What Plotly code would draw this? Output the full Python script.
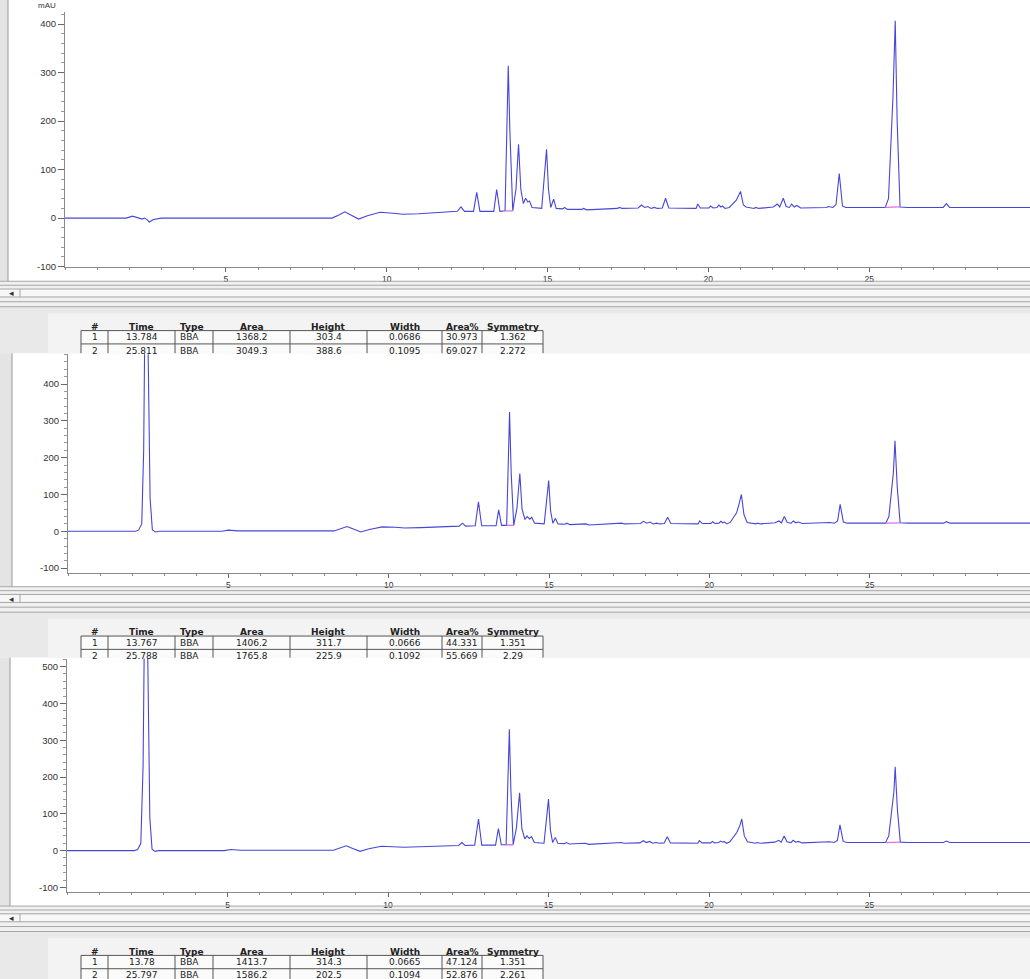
import plotly.graph_objects as go

W, H = 1030, 979

# ---------------- data ----------------
run1 = [(0, 0), (1.9, 0), (2.1, 4), (2.3, 0), (2.4, -2), (2.47, 0), (2.55, -3), (2.62, -8), (2.75, -3), (3.0, 0),
        (8.3, 0), (8.5, 6), (8.7, 13), (8.9, 6), (9.13, -2), (9.4, 5), (9.8, 12), (10.2, 10), (10.5, 8), (11.0, 9),
        (11.7, 12), (12.2, 14), (12.31, 23), (12.42, 14), (12.7, 14), (12.8, 53), (12.9, 14), (13.33, 14), (13.42, 59),
        (13.52, 14), (13.68, 15), (13.74, 180), (13.78, 314), (13.83, 180), (13.92, 15), (14.02, 60), (14.1, 152),
        (14.17, 60), (14.25, 30), (14.32, 41), (14.39, 33), (14.44, 35), (14.52, 22), (14.82, 20), (14.92, 100),
        (14.97, 142), (15.03, 60), (15.1, 22), (15.19, 39), (15.27, 20), (15.47, 19), (15.53, 22), (15.62, 18),
        (16.07, 18), (16.12, 20), (16.22, 17), (17.17, 20), (17.24, 22), (17.32, 20), (17.82, 21), (17.92, 27),
        (18.02, 22), (18.12, 24), (18.22, 20), (18.32, 22), (18.42, 20), (18.57, 21), (18.67, 41), (18.77, 21),
        (19.17, 20), (19.62, 20), (19.67, 29), (19.75, 21), (20.02, 21), (20.07, 25), (20.15, 21), (20.27, 22),
        (20.33, 27), (20.39, 23), (20.44, 25), (20.52, 20), (20.65, 22), (20.87, 37), (21.0, 55), (21.09, 27),
        (21.17, 23), (21.42, 20), (21.47, 22), (21.57, 20), (22.02, 23), (22.14, 29), (22.22, 23), (22.33, 41),
        (22.42, 24), (22.52, 22), (22.59, 29), (22.67, 23), (22.75, 26), (22.87, 21), (23.67, 22), (23.73, 24),
        (23.87, 22), (23.97, 28), (24.07, 92), (24.17, 25), (24.27, 22), (25.5, 22), (25.6, 40), (25.68, 160),
        (25.74, 250), (25.81, 407), (25.87, 200), (25.96, 23), (26.2, 22), (27.3, 22), (27.4, 30), (27.5, 22), (30, 22)]

run2 = [(0, 0), (2.1, 0), (2.2, 3), (2.3, 20), (2.36, 220), (2.43, 900), (2.5, 480), (2.56, 90), (2.63, 4),
        (2.72, -2), (2.85, 0), (4.8, 0), (5.0, 3), (5.3, 1), (8.3, 1), (8.5, 6), (8.7, 13), (8.9, 6), (9.13, -2),
        (9.4, 5), (9.8, 12), (10.2, 11), (10.5, 9), (11.0, 10), (11.7, 12), (12.2, 14), (12.3, 22), (12.4, 14),
        (12.7, 15), (12.8, 80), (12.9, 15), (13.35, 15), (13.43, 58), (13.52, 16), (13.68, 16), (13.72, 160),
        (13.77, 324), (13.82, 160), (13.9, 16), (14.0, 62), (14.09, 157), (14.16, 60), (14.25, 32), (14.32, 40),
        (14.4, 33), (14.46, 38), (14.55, 22), (14.85, 20), (14.94, 95), (14.99, 138), (15.05, 55), (15.12, 22),
        (15.2, 35), (15.28, 20), (15.5, 19), (15.56, 22), (15.65, 18), (16.1, 18), (16.15, 20), (16.25, 17),
        (17.2, 20), (17.27, 22), (17.35, 20), (17.85, 21), (17.95, 27), (18.05, 22), (18.15, 25), (18.25, 20),
        (18.35, 22), (18.45, 20), (18.6, 21), (18.7, 38), (18.8, 21), (19.2, 20), (19.65, 20), (19.7, 28),
        (19.78, 21), (20.05, 21), (20.1, 26), (20.18, 21), (20.3, 22), (20.36, 27), (20.42, 23), (20.47, 25),
        (20.55, 20), (20.65, 24), (20.85, 50), (20.93, 75), (21.0, 100), (21.08, 45), (21.18, 24), (21.45, 20),
        (21.5, 22), (21.6, 20), (22.05, 23), (22.17, 28), (22.25, 23), (22.34, 40), (22.43, 24), (22.55, 22),
        (22.62, 28), (22.7, 23), (22.78, 25), (22.9, 21), (23.7, 22), (23.76, 24), (23.9, 22), (24.0, 28),
        (24.08, 73), (24.18, 25), (24.3, 22), (25.5, 22), (25.6, 40), (25.68, 110), (25.74, 160), (25.79, 246),
        (25.86, 120), (25.95, 23), (26.2, 22), (27.3, 22), (27.4, 26), (27.5, 22), (30, 22)]

run3 = [(0, 0), (2.1, 0), (2.2, 3), (2.3, 20), (2.37, 230), (2.45, 950), (2.52, 500), (2.58, 90), (2.65, 4),
        (2.74, -2), (2.85, 0), (4.9, 0), (5.1, 3), (5.4, 1), (8.3, 1), (8.5, 6), (8.7, 13), (8.9, 6), (9.13, -2),
        (9.4, 5), (9.8, 12), (10.5, 9), (11.0, 10), (11.7, 12), (12.2, 14), (12.3, 22), (12.4, 14), (12.7, 15),
        (12.82, 86), (12.92, 15), (13.35, 15), (13.44, 60), (13.53, 16), (13.68, 16), (13.73, 160), (13.78, 330),
        (13.83, 160), (13.9, 16), (14.0, 62), (14.1, 157), (14.17, 60), (14.26, 32), (14.33, 40), (14.4, 33),
        (14.47, 38), (14.56, 22), (14.86, 20), (14.95, 95), (15.0, 140), (15.06, 55), (15.13, 22), (15.21, 36),
        (15.29, 20), (15.5, 19), (15.56, 22), (15.65, 18), (16.1, 18), (16.15, 20), (16.25, 17), (17.2, 20),
        (17.27, 22), (17.35, 20), (17.85, 21), (17.95, 27), (18.05, 22), (18.15, 25), (18.25, 20), (18.35, 22),
        (18.45, 20), (18.6, 21), (18.7, 38), (18.8, 21), (19.2, 20), (19.65, 20), (19.7, 27), (19.78, 21),
        (20.05, 21), (20.1, 25), (20.18, 21), (20.3, 22), (20.36, 26), (20.42, 23), (20.47, 25), (20.55, 20),
        (20.65, 24), (20.87, 50), (20.97, 70), (21.02, 86), (21.1, 40), (21.2, 24), (21.45, 20), (21.5, 22),
        (21.6, 20), (22.05, 23), (22.17, 28), (22.25, 23), (22.34, 40), (22.43, 24), (22.55, 22), (22.62, 28),
        (22.7, 23), (22.78, 25), (22.9, 21), (23.7, 22), (23.76, 24), (23.9, 22), (24.0, 28), (24.08, 70),
        (24.18, 25), (24.3, 22), (25.5, 22), (25.6, 40), (25.7, 110), (25.76, 160), (25.8, 228), (25.87, 110),
        (25.96, 23), (26.2, 22), (27.3, 22), (27.4, 26), (27.5, 22), (30, 22)]

# integration baselines (start, end) for the two integrated peaks
base1 = [((13.68, 15), (13.92, 15)), ((25.5, 22), (25.96, 23))]
base2 = [((13.68, 16), (13.9, 16)), ((25.5, 22), (25.95, 23))]
base3 = [((13.68, 16), (13.9, 16)), ((25.5, 22), (25.96, 23))]

table_header = ["#", "Time", "Type", "Area", "Height", "Width", "Area%", "Symmetry"]
table1 = [["1", "13.784", "BBA", "1368.2", "303.4", "0.0686", "30.973", "1.362"],
          ["2", "25.811", "BBA", "3049.3", "388.6", "0.1095", "69.027", "2.272"]]
table2 = [["1", "13.767", "BBA", "1406.2", "311.7", "0.0666", "44.331", "1.351"],
          ["2", "25.788", "BBA", "1765.8", "225.9", "0.1092", "55.669", "2.29"]]
table3 = [["1", "13.78", "BBA", "1413.7", "314.3", "0.0665", "47.124", "1.351"],
          ["2", "25.797", "BBA", "1586.2", "202.5", "0.1094", "52.876", "2.261"]]

x_ticks = [5, 10, 15, 20, 25, 30]
y_ticks1 = [-100, 0, 100, 200, 300, 400]
y_ticks2 = [-100, 0, 100, 200, 300, 400]
y_ticks3 = [-100, 0, 100, 200, 300, 400, 500]

runs = [run1, run2, run3]
bases = [base1, base2, base3]
tables = [table1, table2, table3]
yticks = [y_ticks1, y_ticks2, y_ticks3]

# ---------------- layout geometry (pixels) ----------------
panels = [
    dict(top=12, bottom=268, left=65, yr=[-100, 425], off=0, ftop=0, gw=8, next=355),
    dict(top=356, bottom=576, left=68, yr=[-113.5, 481], off=307, ftop=355, gw=12, next=661),
    dict(top=662, bottom=897, left=67, yr=[-113.5, 521.6], off=628, ftop=661, gw=10, next=985),
]

TRACE = "#4646d8"
PINK = "#e070e0"


def fx(x):
    return x / W


def fy(y):
    return 1 - y / H


shapes = []
annotations = []


def rect(x0, y0, x1, y1, fill, line=None, lw=0, layer="below"):
    shapes.append(dict(type="rect", xref="paper", yref="paper", x0=fx(x0), x1=fx(x1), y0=fy(y1), y1=fy(y0),
                       fillcolor=fill, line=dict(color=line or fill, width=lw), layer=layer))


def hline(x0, x1, y, color, w=1):
    shapes.append(dict(type="line", xref="paper", yref="paper", x0=fx(x0), x1=fx(x1), y0=fy(y), y1=fy(y),
                       line=dict(color=color, width=w), layer="above"))


def vline(x, y0, y1, color, w=1):
    shapes.append(dict(type="line", xref="paper", yref="paper", x0=fx(x), x1=fx(x), y0=fy(y0), y1=fy(y1),
                       line=dict(color=color, width=w), layer="above"))


def text(x, y, s, size=9, color="#222", xanchor="center", family="DejaVu Sans"):
    annotations.append(dict(xref="paper", yref="paper", x=fx(x), y=fy(y), text=s, showarrow=False,
                            xanchor=xanchor, yanchor="middle", font=dict(size=size, color=color, family=family)))


col_edges = [81, 108, 175, 213, 290, 367, 442, 482, 543]

fig = go.Figure()

for k, p in enumerate(panels):
    o = p["off"]
    sfx = "" if k == 0 else str(k + 1)
    # trace
    t, v = zip(*runs[k])
    fig.add_trace(go.Scatter(x=list(t), y=list(v), mode="lines", line=dict(color=TRACE, width=1.1),
                             xaxis="x" + sfx, yaxis="y" + sfx, hoverinfo="skip"))
    bx, by = [], []
    for (a, b) in bases[k]:
        bx += [a[0], b[0], None]
        by += [a[1], b[1], None]
    fig.add_trace(go.Scatter(x=bx, y=by, mode="lines", line=dict(color=PINK, width=1.3),
                             xaxis="x" + sfx, yaxis="y" + sfx, hoverinfo="skip"))

    # frame: left strip
    rect(0, p["ftop"], p["gw"], 282.7 + o, "#e4e4e4")
    vline(p["gw"], p["ftop"], 282.7 + o, "#9a9a9a")
    # scrollbar band
    rect(0, 282.7 + o, W, 308.3 + o, "#f0f0f0")
    rect(0, 290.5 + o, W, 298.5 + o, "#f7f7f7")
    for yy in (282.7, 286.7, 290.5, 298.5, 303.3, 308.3):
        hline(0, W, yy + o, "#a6a6a6")
    vline(20, 290.5 + o, 298.5 + o, "#a6a6a6")
    text(11, 294.6 + o, "◂", size=9, color="#333")
    # table area
    rect(0, 308.3 + o, W, p["next"], "#e9e9e9")
    rect(48, 315 + o, W, p["next"], "#f3f3f3")
    tb_top = 332.3 + o
    tb_sep = 345.7 + o
    tb_bot = min(359.1 + o, p["next"])
    rect(col_edges[0], tb_top, col_edges[-1], tb_bot, "#fbfbfb")
    hline(col_edges[0], col_edges[-1], tb_top, "#555")
    hline(col_edges[0], col_edges[-1], tb_sep, "#555")
    if 359.1 + o < p["next"]:
        hline(col_edges[0], col_edges[-1], 359.1 + o, "#555")
    for ce in col_edges:
        vline(ce, tb_top, tb_bot, "#555")
    for j, h in enumerate(table_header):
        if h == "Type":
            text(178, 328.7 + o, "<b>%s</b>" % h, xanchor="left")
        else:
            text((col_edges[j] + col_edges[j + 1]) / 2, 328.7 + o, "<b>%s</b>" % h)
    for r, row in enumerate(tables[k]):
        yy = 339.0 + o + r * 13.4
        for j, cell in enumerate(row):
            if j == 2:
                text(178, yy, cell, xanchor="left")
            else:
                text((col_edges[j] + col_edges[j + 1]) / 2, yy, cell)

    # axes
    fig.layout["xaxis" + sfx] = dict(
        domain=[fx(p["left"]), 1], range=[0, 30], anchor="y" + sfx,
        tickmode="array", tickvals=x_ticks, ticktext=[str(x) for x in x_ticks],
        ticks="outside", ticklen=4, tickcolor="#666", showline=True, linecolor="#8a8a8a", linewidth=1,
        minor=dict(dtick=1, tick0=0, ticks="outside", ticklen=2, tickcolor="#888"),
        tickfont=dict(size=8.5, color="#333", family="Liberation Sans"),
        showgrid=False, zeroline=False, fixedrange=True)
    fig.layout["yaxis" + sfx] = dict(
        domain=[fy(p["bottom"]), fy(p["top"])], range=p["yr"], anchor="x" + sfx,
        tickmode="array", tickvals=yticks[k], ticktext=[str(y) for y in yticks[k]],
        ticks="outside", ticklen=6, tickcolor="#666", showline=True, linecolor="#8a8a8a", linewidth=1,
        minor=dict(dtick=20, tick0=0, ticks="outside", ticklen=3, tickcolor="#999"),
        tickfont=dict(size=9.5, color="#333", family="Liberation Sans"),
        showgrid=False, zeroline=False, fixedrange=True)

# unit label at the very top
text(47, 6, "mAU", size=8, color="#333", family="Liberation Sans")

fig.update_layout(width=W, height=H, autosize=False, margin=dict(l=0, r=0, t=0, b=0, pad=0),
                  paper_bgcolor="white", plot_bgcolor="white", showlegend=False,
                  shapes=shapes, annotations=annotations)

fig.write_html("out.html")
